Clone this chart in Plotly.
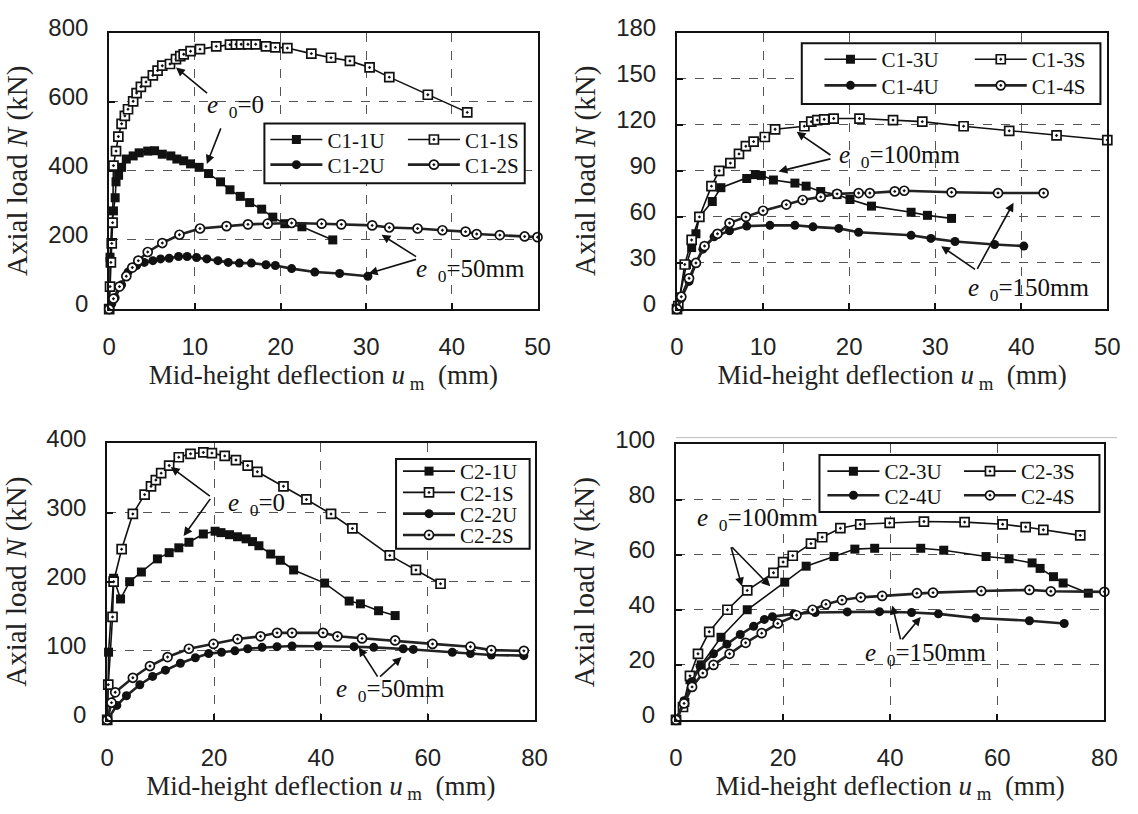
import plotly.graph_objects as go

W, H = 1138, 814

# ---------------- data ----------------
# Panel 1 (C1, e0 = 0 / 50 mm)
c1_1u_x = [0, 0.1, 0.3, 0.5, 0.7, 0.8, 1.1, 1.45, 2.0, 2.8, 3.5, 4.5, 5.3, 6.2, 7.2, 7.9, 8.7, 9.5, 10.5, 11.6, 13.0, 14.1, 15.3, 16.4, 17.8, 19.1, 20.5, 22.5, 26.1]
c1_1u_y = [0, 150, 247, 284, 322, 368, 387, 410, 434, 443, 452, 457, 458, 448, 443, 434, 429, 420, 410, 392, 368, 345, 326, 308, 289, 266, 247, 238, 200]
c1_1s_x = [0, 0.1, 0.2, 0.3, 0.4, 0.5, 0.8, 1.07, 1.45, 1.83, 2.2, 2.8, 3.2, 3.7, 4.3, 5.1, 5.65, 6.2, 7.1, 7.8, 8.3, 8.7, 9.5, 10.6, 12.5, 14.1, 14.8, 15.4, 16.2, 17.1, 18.3, 19.4, 20.8, 23.6, 25.9, 28.1, 30.4, 32.7, 37.2, 41.8]
c1_1s_y = [0, 65, 135, 190, 250, 415, 457, 499, 536, 559, 578, 601, 625, 643, 657, 676, 690, 704, 709, 723, 732, 737, 746, 752, 760, 765, 766, 766, 766, 766, 760, 757, 755, 739, 727, 718, 699, 671, 620, 569]
c1_2u_x = [0, 0.3, 0.7, 1.45, 2.2, 3.2, 4.1, 5.1, 6.0, 7.0, 8.1, 9.1, 10.2, 11.4, 12.7, 13.9, 15.2, 16.6, 18.3, 19.4, 21.3, 24.0, 26.9, 30.2]
c1_2u_y = [0, 15, 33, 70, 107, 126, 135, 140, 145, 147, 152, 152, 149, 145, 140, 135, 133, 133, 128, 126, 117, 107, 103, 95]
c1_2s_x = [0, 0.5, 1.2, 2.0, 2.7, 3.4, 4.5, 6.2, 8.2, 10.6, 13.7, 16.2, 18.5, 21.3, 24.8, 27.1, 30.7, 32.7, 36.0, 38.9, 41.6, 42.9, 45.6, 48.5, 50]
c1_2s_y = [0, 30, 65, 95, 120, 140, 165, 191, 215, 233, 240, 245, 247, 249, 247, 245, 242, 236, 233, 228, 224, 217, 214, 210, 208]

# Panel 2 (C1, e0 = 100 / 150 mm)
c1_3u_x = [0, 0.3, 1.1, 1.7, 2.2, 2.6, 4.1, 5.1, 8.1, 9.1, 9.8, 11.2, 13.7, 15.0, 16.7, 18.6, 20.1, 22.6, 27.2, 29.1, 31.9]
c1_3u_y = [0, 8, 29, 40, 49, 60, 70, 79, 85, 87.5, 87, 84, 82, 80, 76.5, 74.5, 71.3, 67, 63, 61, 59]
c1_3s_x = [0, 0.15, 0.9, 1.7, 2.6, 4.0, 4.9, 6.2, 7.2, 8.0, 8.9, 10.2, 11.4, 14.8, 15.6, 16.3, 17.1, 18.2, 21.2, 25.1, 28.5, 33.3, 38.6, 44.1, 50]
c1_3s_y = [0, 2, 29, 45, 60, 80, 90, 95, 101, 106, 109, 112, 117, 119, 122, 123, 123.5, 124, 124, 123, 122, 119, 116, 113, 110]
c1_4u_x = [0, 0.5, 1.4, 2.2, 3.0, 4.3, 6.1, 8.1, 10.8, 13.7, 15.8, 18.8, 21.1, 27.2, 29.5, 32.3, 36.9, 40.3]
c1_4u_y = [0, 7, 18, 30, 39, 47, 51, 54, 54.5, 54.5, 53.5, 52.5, 50, 48, 46, 44, 42, 41]
c1_4s_x = [0, 0.5, 1.4, 2.2, 3.2, 4.7, 6.1, 8.0, 10.0, 12.7, 14.6, 16.7, 18.6, 21.1, 22.4, 25.3, 26.4, 31.9, 37.3, 42.6]
c1_4s_y = [0, 8, 20, 30, 41, 49, 56, 60, 64, 68, 71, 73, 75, 75.5, 75.5, 76.6, 77, 76, 75.5, 75.5]

# Panel 3 (C2, e0 = 0 / 50 mm)
c2_1u_x = [0, 0.25, 1.2, 2.5, 4.2, 6.4, 9.4, 11.6, 13.4, 15.3, 18.0, 20.2, 21.3, 22.9, 24.4, 26.0, 27.2, 28.4, 30.6, 32.4, 34.9, 40.7, 45.3, 47.4, 50.8, 53.9]
c2_1u_y = [0, 98, 205, 175, 200, 214, 233, 242, 249, 257, 269, 273, 271, 268, 265, 262, 258, 252, 240, 231, 217, 198, 172, 168, 158, 151]
c2_1s_x = [0, 0.2, 1.0, 1.2, 2.7, 4.8, 7.0, 8.2, 9.1, 10.1, 11.6, 13.4, 15.6, 18.0, 19.6, 22.0, 24.1, 26.3, 28.1, 33.0, 37.3, 41.9, 45.9, 52.9, 57.8, 62.4]
c2_1s_y = [0, 51, 149, 200, 247, 298, 326, 338, 347, 357, 368, 380, 385, 387, 386, 382, 376, 368, 359, 338, 319, 298, 277, 238, 217, 197]
c2_2u_x = [0, 1.8, 3.6, 6.1, 8.5, 10.9, 13.7, 16.5, 19.0, 21.4, 23.9, 26.3, 29.0, 31.8, 34.6, 39.5, 46.2, 49.9, 55.4, 57.3, 64.6, 68.0, 71.9, 78]
c2_2u_y = [0, 21, 35, 51, 63, 72, 82, 90, 96, 98, 100, 103, 105, 106, 107, 107, 106, 105, 103, 102, 98, 96, 94, 93]
c2_2s_x = [0, 0.8, 1.5, 4.8, 8.0, 11.3, 15.3, 19.9, 24.4, 28.7, 31.8, 34.6, 40.4, 43.1, 47.7, 53.9, 60.9, 68.0, 71.9, 78]
c2_2s_y = [0, 25, 40, 61, 78, 91, 103, 110, 117, 121, 126, 126, 126, 121, 118, 115, 110, 106, 101, 100]

# Panel 4 (C2, e0 = 100 / 150 mm)
c2_3u_x = [0, 1.65, 2.6, 4.7, 8.4, 13.3, 20.3, 24.3, 29.5, 33.4, 37.1, 45.7, 50.0, 57.9, 62.2, 66.5, 68.0, 70.5, 72.3, 77]
c2_3u_y = [0, 6.4, 14.6, 20, 30, 40, 50, 55.8, 59.3, 62, 62.3, 62.3, 61.6, 59.3, 58.5, 57, 55, 52, 49.7, 46]
c2_3s_x = [0, 1.3, 2.6, 4.1, 6.2, 9.6, 13.3, 18.2, 20.0, 21.8, 25.2, 27.3, 30.7, 34.4, 39.9, 46.3, 53.9, 61.0, 65.3, 68.6, 75.5]
c2_3s_y = [0, 4.7, 16, 24, 32, 40, 47, 53.4, 57.3, 59.6, 64, 66.3, 69.6, 71, 71.5, 72, 71.8, 71, 70, 69, 67]
c2_4u_x = [0, 1.5, 3, 4.5, 7, 9.5, 12, 14.5, 16.5, 18, 22, 26, 32, 38, 44, 49, 56, 66, 72.5]
c2_4u_y = [0, 7, 14, 19.5, 24, 27.5, 31, 34, 36.5, 37.5, 38.5, 39, 39.2, 39.3, 39, 38.5, 37, 36, 35]
c2_4s_x = [0, 1.5, 3, 5, 7, 10, 13, 16, 19, 22.5, 25.5, 28, 31, 34.5, 38.5, 45, 48, 57, 66, 70, 80]
c2_4s_y = [0, 6, 12, 17, 20, 24, 28, 31.5, 35, 38, 40, 42, 43.5, 44.5, 45, 46, 46.2, 46.8, 47.2, 46.7, 46.5]

x_ticks_12 = [0, 10, 20, 30, 40, 50]
x_ticks_34 = [0, 20, 40, 60, 80]
y_ticks = {1: [0, 200, 400, 600, 800], 2: [0, 30, 60, 90, 120, 150, 180],
           3: [0, 100, 200, 300, 400], 4: [0, 20, 40, 60, 80, 100]}
x_ranges = {1: [0, 50], 2: [0, 50], 3: [0, 80], 4: [0, 80]}
y_ranges = {1: [0, 800], 2: [0, 180], 3: [0, 400], 4: [0, 100]}

# ---------------- layout helpers ----------------
def PX(p):
    return p / W

def PY(p):
    return 1 - p / H

# plot-area pixel boxes (left, right, top, bottom)
boxes = {1: (104, 540, 14, 300), 2: (682, 1120, 14, 300),
         3: (102, 537, 439, 725), 4: (681, 1117, 440, 725)}

SERIF = "Liberation Serif, Times New Roman, serif"
SANS = "Liberation Sans, Arial, sans-serif"

fig = go.Figure()

styles = {
    "U_sq": dict(line=dict(color="#111", width=1.6),
                 marker=dict(symbol="square", size=9, color="#111")),
    "S_sq": dict(line=dict(color="#111", width=1.6),
                 marker=dict(symbol="square-dot", size=9, color="white",
                             line=dict(color="#111", width=1.7))),
    "U_ci": dict(line=dict(color="#222", width=2.6),
                 marker=dict(symbol="circle", size=9, color="#111")),
    "S_ci": dict(line=dict(color="#222", width=2.6),
                 marker=dict(symbol="circle-dot", size=9, color="white",
                             line=dict(color="#111", width=1.7))),
}

series = [
    # panel, name, x, y, style, legend id
    (1, "C1-1U", c1_1u_x, c1_1u_y, "U_sq", "legend"),
    (1, "C1-1S", c1_1s_x, c1_1s_y, "S_sq", "legend2"),
    (1, "C1-2U", c1_2u_x, c1_2u_y, "U_ci", "legend3"),
    (1, "C1-2S", c1_2s_x, c1_2s_y, "S_ci", "legend4"),
    (2, "C1-3U", c1_3u_x, c1_3u_y, "U_sq", "legend5"),
    (2, "C1-3S", c1_3s_x, c1_3s_y, "S_sq", "legend6"),
    (2, "C1-4U", c1_4u_x, c1_4u_y, "U_ci", "legend7"),
    (2, "C1-4S", c1_4s_x, c1_4s_y, "S_ci", "legend8"),
    (3, "C2-1U", c2_1u_x, c2_1u_y, "U_sq", "legend9"),
    (3, "C2-1S", c2_1s_x, c2_1s_y, "S_sq", "legend10"),
    (3, "C2-2U", c2_2u_x, c2_2u_y, "U_ci", "legend11"),
    (3, "C2-2S", c2_2s_x, c2_2s_y, "S_ci", "legend12"),
    (4, "C2-3U", c2_3u_x, c2_3u_y, "U_sq", "legend13"),
    (4, "C2-3S", c2_3s_x, c2_3s_y, "S_sq", "legend14"),
    (4, "C2-4U", c2_4u_x, c2_4u_y, "U_ci", "legend15"),
    (4, "C2-4S", c2_4s_x, c2_4s_y, "S_ci", "legend16"),
]

for p, name, xs, ys, st, leg in series:
    suf = "" if p == 1 else str(p)
    fig.add_trace(go.Scatter(x=xs, y=ys, name=name, mode="lines+markers",
                             xaxis="x" + suf, yaxis="y" + suf, legend=leg,
                             cliponaxis=False, **styles[st]))

# legend entry positions (pixel: sample-start x, row centre y)
leg_pos = {
    "legend": (263, 125), "legend2": (403, 125), "legend3": (263, 151), "legend4": (403, 151),
    "legend5": (827, 42), "legend6": (980, 42), "legend7": (827, 69), "legend8": (980, 69),
    "legend9": (398, 468), "legend10": (398, 490), "legend11": (398, 512), "legend12": (398, 534),
    "legend13": (830, 468), "legend14": (969, 468), "legend15": (830, 493), "legend16": (969, 493),
}
layout_legends = {}
for k, (lx, ly) in leg_pos.items():
    layout_legends[k] = dict(x=PX(lx), y=PY(ly), xanchor="left", yanchor="middle",
                             bgcolor="rgba(0,0,0,0)", borderwidth=0, itemwidth=52,
                             font=dict(family=SERIF, size=21, color="#111"))

axis_common = dict(showline=True, linecolor="#111", linewidth=2, mirror=True,
                   ticks="inside", ticklen=6, tickwidth=2, tickcolor="#111",
                   showgrid=True, gridcolor="#555", griddash="dash", gridwidth=1,
                   zeroline=False, tickfont=dict(family=SANS, size=24, color="#222"))

XT = "Mid-height deflection <i>u</i><sub> m</sub>  (mm)"
YT = "Axial load <i>N</i> (kN)"

layout = dict(width=W, height=H, margin=dict(l=0, r=0, t=0, b=0),
              paper_bgcolor="white", plot_bgcolor="white", showlegend=True)
for p in range(1, 5):
    l, r, t, b = boxes[p]
    suf = "" if p == 1 else str(p)
    xt = x_ticks_12 if p <= 2 else x_ticks_34
    layout["xaxis" + suf] = dict(axis_common, domain=[PX(l), PX(r)], range=x_ranges[p],
                                 tickvals=xt, anchor="y" + suf, ticklabelstandoff=15,
                                 title=dict(text=XT, standoff=2,
                                            font=dict(family=SERIF, size=27, color="#222")))
    layout["yaxis" + suf] = dict(axis_common, domain=[PY(b), PY(t)], range=y_ranges[p],
                                 tickvals=y_ticks[p], anchor="x" + suf, ticklabelstandoff=14,
                                 ticklabelshift=-5,
                                 title=dict(text=YT, standoff=12,
                                            font=dict(family=SERIF, size=29, color="#222")))
layout.update(layout_legends)

# legend frames
frames = [(262, 108, 527, 170), (809, 25, 1113, 88), (396, 455, 532, 548), (827, 451, 1112, 510)]
shapes = []
for x0, y0, x1, y1 in frames:
    shapes.append(dict(type="rect", xref="paper", yref="paper", x0=PX(x0), x1=PX(x1),
                       y0=PY(y1), y1=PY(y0), line=dict(color="#111", width=2),
                       fillcolor="white", layer="above"))
# faint scan line above lower-right panel
shapes.append(dict(type="line", xref="paper", yref="paper", x0=PX(681), x1=PX(1130),
                   y0=PY(433), y1=PY(433), line=dict(color="#bbb", width=1)))
layout["shapes"] = shapes

# annotations: label text + arrows (data coordinates)
E0 = "<i>e</i> <sub> 0</sub>"
labels = [
    (1, 11.2, 587, E0 + "=0"),
    (1, 35.6, 112, E0 + "=50mm"),
    (2, 18.6, 99, E0 + "=100mm"),
    (2, 33.6, 12.6, E0 + "=150mm"),
    (3, 22.2, 312, E0 + "=0"),
    (3, 42.5, 42, E0 + "=50mm"),
    (4, 3.5, 72.6, E0 + "=100mm"),
    (4, 35.0, 23.9, E0 + "=150mm"),
]
arrows = [
    # panel, tail x, tail y, tip x, tip y
    (1, 11.6, 621, 7.8, 699), (1, 13.1, 527, 11.4, 420),
    (1, 36.0, 149, 31.8, 215), (1, 36.0, 145, 30.3, 103),
    (2, 18.0, 99.6, 13.9, 115.4), (2, 18.0, 98, 11.8, 89.6),
    (2, 34.8, 25.2, 30.7, 40.9), (2, 34.8, 25.2, 39.1, 69.2),
    (3, 19.5, 322, 11.9, 366), (3, 19.5, 322, 14.3, 266),
    (3, 50.8, 60.6, 47.1, 105), (3, 50.8, 60.6, 55.1, 91),
    (4, 10.2, 63.2, 12.3, 48.5), (4, 10.2, 63.2, 17.6, 48.5),
    (4, 42.0, 28.7, 40.4, 41.5), (4, 42.0, 28.7, 45.7, 37.4),
]
ann = []
for p, x, y, txt in labels:
    suf = "" if p == 1 else str(p)
    ann.append(dict(x=x, y=y, xref="x" + suf, yref="y" + suf, text=txt, showarrow=False,
                    xanchor="left", yanchor="middle",
                    font=dict(family=SERIF, size=25, color="#111")))
for p, tx, ty, hx, hy in arrows:
    suf = "" if p == 1 else str(p)
    ann.append(dict(x=hx, y=hy, ax=tx, ay=ty, xref="x" + suf, yref="y" + suf,
                    axref="x" + suf, ayref="y" + suf, text="", showarrow=True,
                    arrowhead=2, arrowsize=1.1, arrowwidth=1.6, arrowcolor="#111"))
layout["annotations"] = ann

fig.update_layout(**layout)
fig.write_html("out.html")
